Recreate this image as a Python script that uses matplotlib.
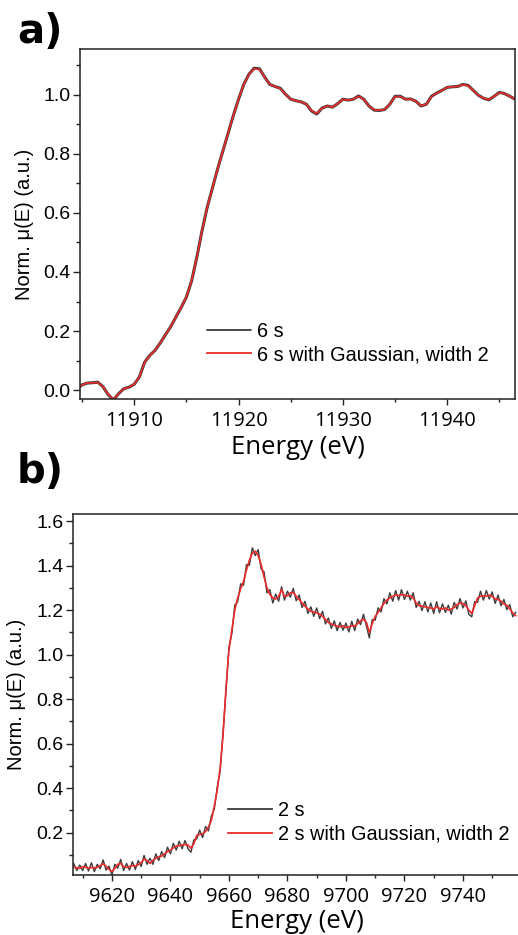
import matplotlib
matplotlib.use("Agg")
import matplotlib.pyplot as plt
from matplotlib.ticker import MultipleLocator

# ---------------- data: panel a ----------------
energy_a = [11904.8, 11905.0, 11905.5, 11906.0, 11906.5, 11907.0, 11907.5, 11908.0, 11908.5,
            11909.0, 11909.5, 11910.0, 11910.5, 11911.0, 11911.5, 11912.0, 11912.5, 11913.0,
            11913.5, 11914.0, 11914.5, 11915.0, 11915.5, 11916.0, 11916.5, 11917.0, 11917.5,
            11918.0, 11918.5, 11919.0, 11919.5, 11920.0, 11920.5, 11921.0, 11921.5, 11922.0,
            11922.5, 11923.0, 11923.5, 11924.0, 11924.5, 11925.0, 11925.5, 11926.0, 11926.5,
            11927.0, 11927.5, 11928.0, 11928.5, 11929.0, 11929.5, 11930.0, 11930.5, 11931.0,
            11931.5, 11932.0, 11932.5, 11933.0, 11933.5, 11934.0, 11934.5, 11935.0, 11935.5,
            11936.0, 11936.5, 11937.0, 11937.5, 11938.0, 11938.5, 11939.0, 11939.5, 11940.0,
            11940.5, 11941.0, 11941.5, 11942.0, 11942.5, 11943.0, 11943.5, 11944.0, 11944.5,
            11945.0, 11945.5, 11946.0, 11946.5]
mu_a_raw = [0.012, 0.018, 0.024, 0.025, 0.027, 0.012, -0.015, -0.033, -0.012,
            0.005, 0.010, 0.020, 0.045, 0.095, 0.118, 0.135, 0.160, 0.188,
            0.215, 0.248, 0.280, 0.315, 0.370, 0.450, 0.540, 0.620, 0.685,
            0.750, 0.810, 0.870, 0.930, 0.985, 1.035, 1.070, 1.090, 1.088,
            1.060, 1.035, 1.028, 1.022, 1.002, 0.985, 0.980, 0.976, 0.968,
            0.945, 0.935, 0.955, 0.962, 0.958, 0.970, 0.985, 0.982, 0.985,
            0.996, 0.985, 0.962, 0.948, 0.947, 0.950, 0.968, 0.995, 0.995,
            0.985, 0.986, 0.978, 0.962, 0.968, 0.995, 1.006, 1.015, 1.025,
            1.027, 1.028, 1.035, 1.032, 1.015, 0.998, 0.988, 0.983, 0.995,
            1.008, 1.004, 0.995, 0.985]
mu_a_gauss = [0.012, 0.018, 0.024, 0.025, 0.026, 0.012, -0.014, -0.032, -0.012,
              0.005, 0.010, 0.020, 0.045, 0.094, 0.118, 0.135, 0.160, 0.188,
              0.215, 0.248, 0.280, 0.315, 0.370, 0.450, 0.540, 0.620, 0.685,
              0.750, 0.810, 0.870, 0.930, 0.985, 1.035, 1.069, 1.088, 1.086,
              1.060, 1.035, 1.028, 1.021, 1.002, 0.985, 0.980, 0.976, 0.968,
              0.946, 0.937, 0.955, 0.962, 0.958, 0.970, 0.984, 0.982, 0.985,
              0.995, 0.985, 0.962, 0.949, 0.948, 0.950, 0.968, 0.994, 0.994,
              0.985, 0.986, 0.978, 0.963, 0.968, 0.994, 1.006, 1.015, 1.025,
              1.027, 1.028, 1.034, 1.031, 1.015, 0.998, 0.988, 0.984, 0.995,
              1.007, 1.004, 0.995, 0.985]
label_a_raw = "6 s"
label_a_gauss = "6 s with Gaussian, width 2"
xticks_a = [11910, 11920, 11930, 11940]
yticks_a = [0.0, 0.2, 0.4, 0.6, 0.8, 1.0]

# ---------------- data: panel b ----------------
energy_b = list(range(9607, 9759))
mu_b_gauss = [0.045, 0.042, 0.040, 0.048, 0.045, 0.040, 0.044, 0.042, 0.045, 0.052,
              0.060, 0.050, 0.035, 0.025, 0.040, 0.058, 0.062, 0.048, 0.044, 0.048,
              0.052, 0.050, 0.056, 0.065, 0.082, 0.075, 0.062, 0.075, 0.085, 0.092,
              0.095, 0.105, 0.115, 0.122, 0.132, 0.140, 0.142, 0.145, 0.147, 0.145,
              0.130, 0.150, 0.188, 0.192, 0.195, 0.205, 0.225, 0.255, 0.320, 0.390,
              0.490, 0.640, 0.850, 1.020, 1.110, 1.200, 1.255, 1.295, 1.330, 1.380,
              1.425, 1.455, 1.465, 1.445, 1.405, 1.350, 1.300, 1.270, 1.255, 1.250,
              1.262, 1.292, 1.262, 1.265, 1.278, 1.280, 1.262, 1.248, 1.232, 1.218,
              1.205, 1.195, 1.192, 1.188, 1.182, 1.172, 1.158, 1.145, 1.138, 1.132,
              1.128, 1.125, 1.130, 1.122, 1.125, 1.130, 1.128, 1.140, 1.152, 1.160,
              1.145, 1.100, 1.140, 1.172, 1.190, 1.210, 1.230, 1.245, 1.255, 1.262,
              1.268, 1.265, 1.270, 1.268, 1.262, 1.265, 1.255, 1.232, 1.220, 1.218,
              1.215, 1.212, 1.210, 1.205, 1.215, 1.208, 1.205, 1.210, 1.200, 1.205,
              1.212, 1.225, 1.232, 1.230, 1.220, 1.200, 1.185, 1.220, 1.255, 1.262,
              1.265, 1.262, 1.268, 1.262, 1.250, 1.248, 1.240, 1.228, 1.222, 1.205,
              1.188, 1.175]
mu_b_raw = [0.060, 0.030, 0.055, 0.030, 0.062, 0.028, 0.065, 0.025, 0.058, 0.038,
            0.078, 0.032, 0.050, 0.010, 0.058, 0.040, 0.080, 0.030, 0.062, 0.032,
            0.070, 0.035, 0.075, 0.048, 0.098, 0.058, 0.085, 0.058, 0.105, 0.075,
            0.115, 0.088, 0.135, 0.105, 0.152, 0.122, 0.162, 0.128, 0.165, 0.128,
            0.112, 0.168, 0.172, 0.212, 0.178, 0.228, 0.208, 0.275, 0.305, 0.405,
            0.478, 0.652, 0.838, 1.032, 1.095, 1.222, 1.238, 1.318, 1.312, 1.405,
            1.402, 1.480, 1.445, 1.472, 1.385, 1.372, 1.278, 1.292, 1.232, 1.272,
            1.240, 1.305, 1.245, 1.285, 1.258, 1.298, 1.242, 1.268, 1.212, 1.240,
            1.185, 1.215, 1.172, 1.210, 1.162, 1.195, 1.138, 1.165, 1.118, 1.152,
            1.108, 1.145, 1.110, 1.142, 1.102, 1.150, 1.108, 1.160, 1.135, 1.182,
            1.128, 1.075, 1.158, 1.155, 1.210, 1.192, 1.252, 1.228, 1.278, 1.240,
            1.288, 1.245, 1.292, 1.248, 1.285, 1.245, 1.278, 1.212, 1.240, 1.198,
            1.238, 1.192, 1.232, 1.185, 1.238, 1.188, 1.228, 1.190, 1.222, 1.182,
            1.235, 1.205, 1.252, 1.210, 1.242, 1.182, 1.170, 1.238, 1.235, 1.285,
            1.245, 1.288, 1.250, 1.282, 1.230, 1.268, 1.220, 1.248, 1.202, 1.225,
            1.170, 1.190]
label_b_raw = "2 s"
label_b_gauss = "2 s with Gaussian, width 2"
xticks_b = [9620, 9640, 9660, 9680, 9700, 9720, 9740]
yticks_b = [0.2, 0.4, 0.6, 0.8, 1.0, 1.2, 1.4, 1.6]

# ---------------- figure ----------------
W, H = 518, 935
fig = plt.figure(figsize=(W / 100, H / 100), dpi=100)

def fx(px):
    return px / W

def fy(py):
    return 1 - py / H

ax_a = fig.add_axes([fx(80), fy(399), fx(515) - fx(80), fy(49) - fy(399)])
ax_b = fig.add_axes([fx(73), fy(875), fx(520) - fx(73), fy(514) - fy(875)])

GRAY = "#3c3c3c"
RED = "#ee2a2a"
TICK_FONT = "Liberation Sans"
XTICK_FONT = "Open Sans"

def style(ax):
    for s in ax.spines.values():
        s.set_linewidth(1.1)
        s.set_color("#222222")
    ax.tick_params(which="major", direction="out", width=1.0,
                   top=False, right=False, colors="#222222")
    ax.tick_params(which="minor", direction="out", width=1.0,
                   top=False, right=False, colors="#222222")
    ax.tick_params(axis="y", which="major", length=5, pad=2)
    ax.tick_params(axis="y", which="minor", length=3)
    ax.tick_params(axis="x", which="major", length=4, pad=4.5)
    ax.tick_params(axis="x", which="minor", length=2.5)
    for lab in ax.get_yticklabels():
        lab.set_fontfamily(TICK_FONT)
        lab.set_fontsize(14)
        lab.set_color("black")
    for lab in ax.get_xticklabels():
        lab.set_fontfamily(XTICK_FONT)
        lab.set_fontsize(14.5)
        lab.set_color("black")

# panel a
ax_a.plot(energy_a, mu_a_raw, color=GRAY, lw=2.2, label=label_a_raw, solid_capstyle="round")
ax_a.plot(energy_a, mu_a_gauss, color=RED, lw=1.2, label=label_a_gauss)
ax_a.set_xlim(11904.8, 11946.5)
ax_a.set_ylim(-0.03, 1.155)
ax_a.set_xticks(xticks_a)
ax_a.set_yticks(yticks_a)
ax_a.xaxis.set_minor_locator(MultipleLocator(5))
ax_a.yaxis.set_minor_locator(MultipleLocator(0.1))
ax_a.set_xticklabels([str(v) for v in xticks_a])
ax_a.set_yticklabels([f"{v:.1f}" for v in yticks_a])
style(ax_a)
ax_a.set_xlabel("Energy (eV)", family="Open Sans", fontsize=18.5)
ax_a.set_ylabel("Norm. μ(E) (a.u.)", family="Liberation Sans", fontsize=14.5)
leg_a = ax_a.legend(frameon=False, loc="center left",
                    bbox_to_anchor=(fx(207), fy(343)), bbox_transform=fig.transFigure,
                    prop={"family": "Liberation Sans", "size": 14.3},
                    handlelength=2.2, handletextpad=0.3, labelspacing=0.22,
                    borderpad=0, borderaxespad=0)
for ln in leg_a.get_lines():
    ln.set_linewidth(1.3)

# panel b
ax_b.plot(energy_b, mu_b_raw, color=GRAY, lw=1.0, label=label_b_raw)
ax_b.plot(energy_b, mu_b_gauss, color=RED, lw=1.2, label=label_b_gauss)
ax_b.set_xlim(9606.7, 9759.5)
ax_b.set_ylim(0.01, 1.632)
ax_b.set_xticks(xticks_b)
ax_b.set_yticks(yticks_b)
ax_b.xaxis.set_minor_locator(MultipleLocator(10))
ax_b.yaxis.set_minor_locator(MultipleLocator(0.1))
ax_b.set_xticklabels([str(v) for v in xticks_b])
ax_b.set_yticklabels([f"{v:.1f}" for v in yticks_b])
style(ax_b)
ax_b.set_xlabel("Energy (eV)", family="Open Sans", fontsize=18.5)
ax_b.set_ylabel("Norm. μ(E) (a.u.)", family="Liberation Sans", fontsize=14.5)
leg_b = ax_b.legend(frameon=False, loc="center left",
                    bbox_to_anchor=(fx(228), fy(822)), bbox_transform=fig.transFigure,
                    prop={"family": "Liberation Sans", "size": 14.3},
                    handlelength=2.2, handletextpad=0.3, labelspacing=0.25,
                    borderpad=0, borderaxespad=0)
for ln in leg_b.get_lines():
    ln.set_linewidth(1.3)

# label positions (pixel-based centres)
ax_a.yaxis.label.set_verticalalignment("center")
ax_b.yaxis.label.set_verticalalignment("center")
ax_a.yaxis.set_label_coords((25 - 80) / (515 - 80), 0.5)
ax_b.yaxis.set_label_coords((17 - 73) / (520 - 73), 0.5)
ax_a.xaxis.label.set_verticalalignment("center")
ax_b.xaxis.label.set_verticalalignment("center")
ax_a.xaxis.set_label_coords(0.5, -(448 - 399) / (399 - 49))
ax_b.xaxis.set_label_coords(0.5, -(921 - 875) / (875 - 514))

# panel letters
fig.text(fx(17), fy(43), "a)", fontsize=29, fontweight="bold", family="DejaVu Sans",
         ha="left", va="baseline")
fig.text(fx(17), fy(483), "b)", fontsize=29, fontweight="bold", family="DejaVu Sans",
         ha="left", va="baseline")

fig.savefig("out.png", dpi=100)
